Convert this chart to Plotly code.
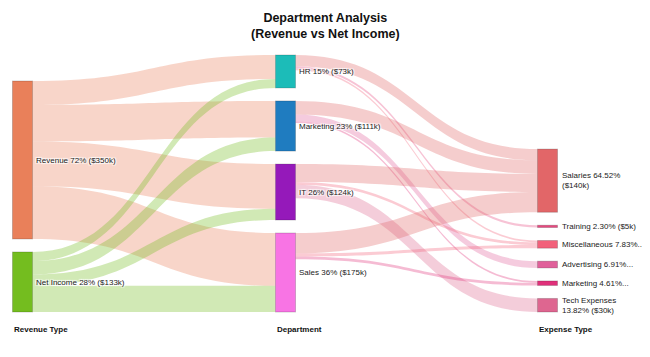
import plotly.graph_objects as go

# ---------------- data ----------------
node_names = ["Revenue", "Net Income",
              "HR", "Marketing", "IT", "Sales",
              "Salaries", "Training", "Miscellaneous", "Advertising", "Marketing", "Tech Expenses"]
node_columns = [0, 0, 1, 1, 1, 1, 2, 2, 2, 2, 2, 2]

link_sources = [0, 0, 0, 0, 1, 1, 1, 1,
                2, 2, 2,
                3, 3, 3,
                4, 4, 4,
                5, 5, 5]
link_targets = [2, 3, 4, 5, 2, 3, 4, 5,
                6, 7, 8,
                6, 9, 10,
                6, 11, 8,
                6, 8, 10]
link_values = [53, 81, 99, 117, 20, 30, 25, 58,
               25, 5, 4,
               30, 15, 4,
               40, 30, 6,
               45, 7, 6]

node_display = ["Revenue 72% ($350k)", "Net Income 28% ($133k)",
                "HR 15% ($73k)", "Marketing 23% ($111k)", "IT 26% ($124k)", "Sales 36% ($175k)",
                "Salaries 64.52%<br>($140k)", "Training 2.30% ($5k)", "Miscellaneous 7.83%...",
                "Advertising 6.91%...", "Marketing 4.61%...", "Tech Expenses<br>13.82% ($30k)"]
column_titles = ["Revenue Type", "Department", "Expense Type"]
chart_title = "Department Analysis<br>(Revenue vs Net Income)"

node_colors = ["#E9805A", "#74BD1F",
               "#1CBCB8", "#1F7CC0", "#9519BA", "#F874E4",
               "#E26668", "#E6487E", "#F2607A", "#E0609A", "#E0307A", "#DE6690"]

# ---------------- layout helpers ----------------
OFF = 8                      # page body margin offset
W, H = 650 - OFF, 357 - OFF  # figure size that fills the window
FONT = "Liberation Sans, Arial"

top_px, bot_px = 55 - OFF, 312 - OFF
dom_h = bot_px - top_px
pad = 13
thickness = 20
col_x_px = [22.5 - OFF, 285.5 - OFF, 547.5 - OFF]
last_col = max(node_columns)

n = len(node_names)
vin = [0] * n
vout = [0] * n
for s, t, v in zip(link_sources, link_targets, link_values):
    vout[s] += v
    vin[t] += v
node_val = [max(a, b) for a, b in zip(vin, vout)]

ncol = last_col + 1
ky = min((dom_h - (sum(1 for c in node_columns if c == k) - 1) * pad) /
         sum(node_val[i] for i in range(n) if node_columns[i] == k) for k in range(ncol))

node_x = [0.0] * n
node_y = [0.0] * n
for k in range(ncol):
    idx = [i for i in range(n) if node_columns[i] == k]
    y = dom_h
    for i in reversed(idx):
        h = node_val[i] * ky
        node_y[i] = (y - h / 2) / dom_h
        node_x[i] = col_x_px[k] / W
        y -= h + pad


def rgba(hexc, a):
    hexc = hexc.lstrip("#")
    r, g, b = int(hexc[0:2], 16), int(hexc[2:4], 16), int(hexc[4:6], 16)
    return f"rgba({r},{g},{b},{a})"


link_colors = []
for s, t in zip(link_sources, link_targets):
    c = node_colors[s] if node_columns[s] == 0 else node_colors[t]
    link_colors.append(rgba(c, 0.33))

# plotly puts last-column labels on the left; draw those as annotations instead
sankey_labels = [("" if node_columns[i] == last_col else node_display[i]) for i in range(n)]

fig = go.Figure(go.Sankey(
    arrangement="fixed",
    domain=dict(x=[0, 1], y=[1 - bot_px / H, 1 - top_px / H]),
    node=dict(
        label=sankey_labels,
        color=node_colors,
        x=node_x,
        y=node_y,
        pad=pad,
        thickness=thickness,
        line=dict(color="rgba(0,0,0,0.18)", width=1),
        customdata=node_names,
        hovertemplate="%{customdata}: %{value}k<extra></extra>",
    ),
    link=dict(source=link_sources, target=link_targets, value=link_values, color=link_colors),
    textfont=dict(family=FONT, size=8, color="#222222"),
))

for i in range(n):
    if node_columns[i] == last_col:
        ypx = top_px + node_y[i] * dom_h
        fig.add_annotation(text=node_display[i], x=(col_x_px[last_col] + thickness / 2 + 2) / W,
                           y=1 - ypx / H, xref="paper", yref="paper", xanchor="left",
                           yanchor="middle", align="left", showarrow=False,
                           font=dict(family=FONT, size=8, color="#222222"))

for k, title in enumerate(column_titles):
    fig.add_annotation(text=f"<b>{title}</b>", x=(col_x_px[k] - 10.5) / W, y=1 - (329 - OFF) / H,
                       xref="paper", yref="paper", xanchor="left", yanchor="middle",
                       showarrow=False, font=dict(family=FONT, size=8, color="#111111"))

fig.add_annotation(text=f"<b>{chart_title}</b>", x=(325 - OFF) / W, y=1 - (25.5 - OFF) / H,
                   xref="paper", yref="paper", xanchor="center", yanchor="middle",
                   showarrow=False, font=dict(family=FONT, size=12.5, color="#111111"))

fig.update_layout(
    width=W, height=H,
    margin=dict(l=0, r=0, t=0, b=0),
    paper_bgcolor="white",
)

fig.write_html("out.html")
